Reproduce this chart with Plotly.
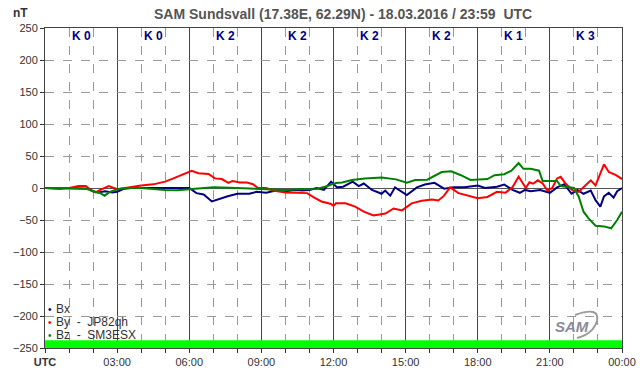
import plotly.graph_objects as go

# ---- data ----
bx_hours = [0, 0.3, 0.6, 1.0, 1.5, 1.8, 2.0, 2.2, 2.5, 2.8, 3.0, 3.3, 3.6, 4.0, 4.5, 5.0, 5.5, 6.0, 6.3, 6.6,
            6.94, 7.3, 7.6, 8.0, 8.5, 8.8, 9.2, 9.6, 10.0, 10.4, 10.7, 11.0, 11.3, 11.6, 11.9, 12.15, 12.4,
            12.8, 13.05, 13.26, 13.6, 14.0, 14.15, 14.36, 14.56, 15.05, 15.47, 15.8, 16.2, 16.6, 17.0, 17.45,
            18.0, 18.3, 18.8, 19.1, 19.45, 19.75, 19.97, 20.2, 20.6, 21.0, 21.3, 21.6, 21.9, 22.15, 22.4,
            22.7, 22.9, 23.1, 23.25, 23.45, 23.65, 23.8, 24.0]
bx_nT = [0, -1, -1, 0, 0, -1, -5, -7, -5, -7, -6, -1, 0, 0, 0, 0, 1, 0, -8, -10,
         -21, -16, -13, -9, -9, -6, -7.5, -4, -5, -3, -4, -3, 0, -3, 10, 1, 2,
         10, 3, 7, -3, -9, -4, -12, 1, -11, 1, 5.5, 8, -1, 1, 1,
         4, 0, 2, 5.5, -3, -7.5, -3, -5, -3, -7.5, 1, 6, -9, -3, -9,
         -4, -19, -29, -13, -7.5, -15, -5, 0]

by_hours = [0, 1.0, 1.4, 1.7, 1.9, 2.1, 2.3, 2.65, 3.0, 3.3, 3.7, 4.0, 4.5, 5.0, 5.34, 5.76, 6.1, 6.38, 6.8,
            7.07, 7.35, 7.63, 7.8, 8.1, 8.4, 8.65, 8.86, 9.2, 9.48, 10.0, 10.9, 11.2, 11.5, 11.9, 12.0, 12.1,
            12.5, 12.9, 13.26, 13.66, 14.16, 14.5, 14.85, 15.25, 15.67, 16.1, 16.36, 16.6, 16.85, 17.2,
            17.6, 18.0, 18.4, 18.8, 19.15, 19.45, 19.7, 19.9, 20.0, 20.15, 20.3, 20.5, 20.7, 20.9, 21.1,
            21.3, 21.45, 21.65, 21.95, 22.2, 22.5, 22.7, 22.9, 23.05, 23.25, 23.45, 23.75, 24.0]
by_nT = [0, 0, 3, 3, -3, -7, -3, 3, -2, 0, 3, 4, 5.7, 10, 15, 22, 27, 23, 22,
         15, 14, 8, 11, 8.5, 8.5, 6, 0, 0, -4, -7, -8, -15, -21, -25, -28, -24,
         -24, -29, -37, -43, -40, -32, -35, -24, -20, -18, -19.5, -12, 1, -8,
         -12, -16, -14, -6, -7.5, 1.5, 17.6, 5, 0, 9, 6.7, 12, 7, -4, 0,
         15, 17.5, 7, -4, -6, 4, 12, 4, 17.5, 37, 25, 20, 14]

bz_hours = [0, 1.0, 1.7, 2.0, 2.3, 2.48, 2.7, 3.0, 3.4, 4.0, 4.5, 5.0, 5.5, 6.0, 6.5, 7.0, 8.0, 9.0, 10.0,
            10.5, 11.3, 11.75, 12.1, 12.36, 12.77, 13.3, 14.0, 14.6, 15.05, 15.4, 15.9, 16.5, 16.9, 17.3,
            17.7, 18.4, 18.7, 19.1, 19.4, 19.7, 19.9, 20.2, 20.55, 20.7, 21.3, 21.45, 22.0, 22.2, 22.4,
            22.6, 22.9, 23.25, 23.55, 23.8, 24.0]
bz_nT = [0, 0, -1, -5, -8, -12, -6, -2, 0, 0, -2, -3, -3.5, -2, 0, 1, 0, -1.5, -3,
         -2, -1.5, 3, 8, 8.5, 12.5, 15, 16.5, 13.5, 8.3, 12.5, 13, 25, 26, 20,
         12.5, 14, 20, 21.5, 27, 39, 30, 30, 27, 11, 11, 3, 0, -13.5, -37,
         -47, -59, -60, -63, -50, -37]

tick_hours = [0, 3, 6, 9, 12, 15, 18, 21, 24]
tick_labels = ["<b>UTC</b>", "03:00", "06:00", "09:00", "12:00", "15:00", "18:00", "21:00", "00:00"]
k_centers = [1.5, 4.5, 7.5, 10.5, 13.5, 16.5, 19.5, 22.5]
k_labels = ["K 0", "K 0", "K 2", "K 2", "K 2", "K 2", "K 1", "K 3"]

FONT = "Arial, Liberation Sans, sans-serif"
BLUE, RED, GREEN = "#000080", "#ff0000", "#008000"

# plot area in pixels
L, R, T, B = 45, 622, 28, 348
W, H = 642, 376


def px(xp):
    return (xp - L) / (R - L)


def py(yp):
    return (B - yp) / (B - T)


fig = go.Figure()
for h, v, c, n in [(bx_hours, bx_nT, BLUE, "Bx"), (by_hours, by_nT, RED, "By"), (bz_hours, bz_nT, GREEN, "Bz")]:
    fig.add_trace(go.Scatter(x=h, y=v, mode="lines", line=dict(color=c, width=2), name=n,
                             showlegend=False, hoverinfo="skip"))

# green band at bottom
fig.add_shape(type="rect", xref="x", yref="y", x0=0, x1=24, y0=-250, y1=-238,
              fillcolor="#00ff00", line=dict(width=0), layer="between")

# K index labels
for xc, t in zip(k_centers, k_labels):
    fig.add_annotation(x=xc, y=py(36), xref="x", yref="paper", yanchor="middle", text=f"<b>{t}</b>",
                       showarrow=False, font=dict(family=FONT, size=12, color="#000080"))

# title and unit
fig.add_annotation(x=px(343), y=py(14), xref="paper", yref="paper", xanchor="center", yanchor="middle",
                   text="<b>SAM Sundsvall (17.38E, 62.29N) - 18.03.2016 / 23:59  UTC</b>",
                   showarrow=False, font=dict(family=FONT, size=14, color="#555555"))
fig.add_annotation(x=px(20), y=py(13), xref="paper", yref="paper", xanchor="center", yanchor="middle",
                   text="<b>nT</b>", showarrow=False, font=dict(family=FONT, size=12, color="#333333"))

# custom legend
legend_rows = [("Bx", BLUE), ("By  -  JP82qh", RED), ("Bz  -  SM3ESX", GREEN)]
for i, (t, c) in enumerate(legend_rows):
    ypx = 309 + 13 * i
    fig.add_annotation(x=px(50), y=py(ypx), xref="paper", yref="paper", xanchor="center", yanchor="middle",
                       text="•", showarrow=False, font=dict(family=FONT, size=10, color=c))
    fig.add_annotation(x=px(54), y=py(ypx), xref="paper", yref="paper", xanchor="left", yanchor="middle",
                       text=t, showarrow=False, font=dict(family=FONT, size=12, color="#333333"))

# SAM logo
fig.add_annotation(x=px(572), y=py(326), xref="paper", yref="paper", xanchor="center", yanchor="middle",
                   text="<b><i>SAM</i></b>", showarrow=False,
                   font=dict(family=FONT, size=15, color="#8a8a9a"))
fig.add_shape(type="path", xref="paper", yref="paper",
              path=f"M {px(575)},{py(315)} Q {px(600)},{py(306)} {px(597)},{py(321)} Q {px(593)},{py(334)} {px(577)},{py(338)}",
              line=dict(color="#9a9a9a", width=2))

fig.update_layout(
    width=W, height=H,
    margin=dict(l=L, r=W - R, t=T, b=H - B, autoexpand=False),
    paper_bgcolor="white", plot_bgcolor="white",
    showlegend=False,
    font=dict(family=FONT, size=11, color="#333333"),
)
fig.update_xaxes(range=[0, 24], tickvals=tick_hours, ticktext=tick_labels,
                 showgrid=True, gridcolor="#444444", gridwidth=1,
                 ticks="outside", ticklen=4, tickcolor="#333333",
                 minor=dict(dtick=1, showgrid=True, gridcolor="#999999", griddash="dash",
                            ticks="outside", ticklen=4, tickcolor="#333333"),
                 showline=True, linecolor="#444444", mirror=True, zeroline=False,
                 tickfont=dict(family=FONT, size=11, color="#333333"))
fig.update_yaxes(range=[-250, 250], dtick=50, showgrid=True, gridcolor="#999999", griddash="dash",
                 zeroline=True, zerolinecolor="#555555", zerolinewidth=1,
                 ticks="outside", ticklen=4, tickcolor="#333333",
                 showline=True, linecolor="#444444", mirror=True,
                 tickfont=dict(family=FONT, size=11, color="#333333"))

fig.write_html("out.html", config={"displayModeBar": False},
               post_script="document.body.style.margin='0';document.body.style.overflow='hidden';")
